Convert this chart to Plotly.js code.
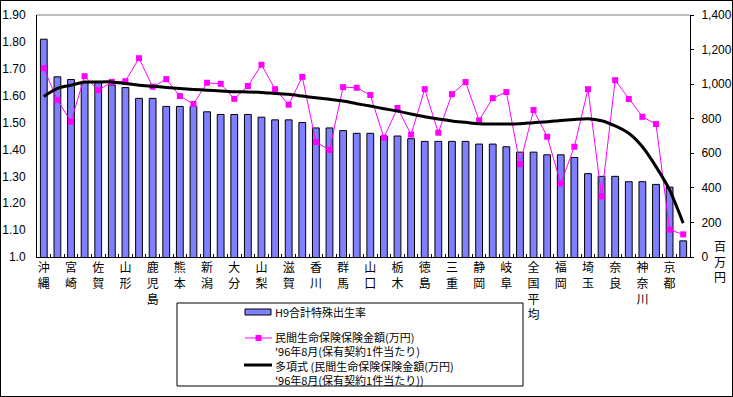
<!DOCTYPE html>
<html>
<head>
<meta charset="utf-8">
<script src="https://cdn.plot.ly/plotly-3.0.1.min.js"></script>
<style>
html,body{margin:0;padding:0;background:#fff;}
#wrap{position:relative;width:733px;height:397px;}
#plot{width:733px;height:397px;}
#frame{position:absolute;left:0;top:0;width:731px;height:395px;border:1px solid #000;pointer-events:none;}
</style>
</head>
<body>
<div id="wrap"><div id="plot"></div><div id="frame"></div></div>
<script>
// Categories (sorted by H9 total fertility rate)
const categories = ['沖縄','福島','宮崎','島根','佐賀','長崎','山形','鳥取','鹿児島','福井','熊本','岩手','新潟','長野','大分','青森','山梨','秋田','滋賀','富山','香川','石川','群馬','茨城','山口','岡山','栃木','愛媛','徳島','高知','三重','和歌山','静岡','広島','岐阜','愛知','全国平均','宮城','福岡','兵庫','埼玉','大阪','奈良','千葉','神奈川','北海道','京都','東京'];
// Which categories carry a visible tick label
const labeledCategories = ['沖縄','宮崎','佐賀','山形','鹿児島','熊本','新潟','大分','山梨','滋賀','香川','群馬','山口','栃木','徳島','三重','静岡','岐阜','全国平均','福岡','埼玉','奈良','神奈川','京都'];
// H9 合計特殊出生率
const fertility = [1.81,1.67,1.66,1.65,1.65,1.64,1.63,1.59,1.59,1.56,1.56,1.56,1.54,1.53,1.53,1.53,1.52,1.51,1.51,1.50,1.48,1.48,1.47,1.46,1.46,1.45,1.45,1.44,1.43,1.43,1.43,1.43,1.42,1.42,1.41,1.39,1.39,1.38,1.38,1.37,1.31,1.30,1.30,1.28,1.28,1.27,1.26,1.06];
// 民間生命保険保険金額 (万円) '96年8月
const insurance = [1092,908,783,1046,965,1013,1017,1150,985,1029,931,885,1008,1002,915,989,1112,971,881,1042,665,619,983,979,937,690,862,708,971,719,942,1012,790,919,954,537,850,696,425,638,971,350,1023,914,811,769,158,131];
// 多項式 trend line
const trend = [929,975,994,1012,1013,1013,1004,994,988,981,975,969,965,961,956,955,952,946,941,931,921,912,902,887,873,858,844,827,811,798,787,779,771,769,769,771,777,782,790,796,800,788,758,716,638,523,388,196];
// Axis tick labels
const leftTickVals = [1.0,1.1,1.2,1.3,1.4,1.5,1.6,1.7,1.8,1.9];
const leftTickText = ['1.0','1.10','1.20','1.30','1.40','1.50','1.60','1.70','1.80','1.90'];
const rightTickVals = [0,200,400,600,800,1000,1200,1400];
const rightTickText = ['0','200','400','600','800','1,000','1,200','1,400'];
// Legend texts (one entry per line)
const legendBar = ['H9合計特殊出生率'];
const legendLine = ['民間生命保険保険金額(万円)', '\'96年8月(保有契約1件当たり)'];
const legendTrend = ['多項式 (民間生命保険保険金額(万円)', '\'96年8月(保有契約1件当たり))'];

const tickText = categories.map(c => labeledCategories.includes(c) ? c.split('').join('<br>') : '');

const JP = '"Noto Sans CJK JP", "Liberation Sans", sans-serif';
const BAR_COLOR = '#8080FF', PINK = '#FF00FF';

const traces = [
  {type:'bar', x:categories, y:fertility, name:legendBar[0], yaxis:'y',
   marker:{color:BAR_COLOR, line:{color:'#000', width:1}}},
  {type:'scatter', mode:'lines+markers', x:categories, y:insurance, name:legendLine.join(' '), yaxis:'y2',
   line:{color:PINK, width:1}, marker:{symbol:'square', size:6, color:PINK}},
  {type:'scatter', mode:'lines', x:categories, y:trend, name:legendTrend.join(' '), yaxis:'y2',
   line:{color:'#000', width:3, shape:'spline', smoothing:0.6}}
];

// pixel -> paper helpers for the legend box (plot area: x 37..690, y 15..257)
const PX = x => (x - 37) / 653;
const PY = y => (257 - y) / 242;

const shapes = [
  {type:'line', xref:'paper', yref:'paper', x0:0, x1:1, y0:1, y1:1, line:{color:'#808080', width:1}},
  // legend frame
  {type:'rect', xref:'paper', yref:'paper', x0:PX(177), x1:PX(523), y0:PY(386), y1:PY(303),
   line:{color:'#000', width:1}, fillcolor:'rgba(0,0,0,0)'},
  // legend symbols
  {type:'rect', xref:'paper', yref:'paper', x0:PX(245), x1:PX(271), y0:PY(315), y1:PY(309),
   line:{color:'#000', width:1}, fillcolor:BAR_COLOR},
  {type:'line', xref:'paper', yref:'paper', x0:PX(245), x1:PX(272), y0:PY(338), y1:PY(338),
   line:{color:PINK, width:1}},
  {type:'rect', xref:'paper', yref:'paper', x0:PX(255.5), x1:PX(261.5), y0:PY(341), y1:PY(335),
   line:{color:PINK, width:0}, fillcolor:PINK},
  {type:'line', xref:'paper', yref:'paper', x0:PX(244), x1:PX(272), y0:PY(365), y1:PY(365),
   line:{color:'#000', width:3}}
];

const legendAnn = (lines, y) => ({xref:'paper', yref:'paper', x:PX(274), y:PY(y), text:lines.join('<br>'),
  showarrow:false, align:'left', xanchor:'left', yanchor:'middle', borderpad:0,
  font:{family:JP, size:11, color:'#000'}});

const annotations = [
  {xref:'paper', yref:'paper', x:PX(720), y:PY(261), text:'百<br>万<br>円', showarrow:false,
   xanchor:'center', yanchor:'middle', font:{family:JP, size:12}},
  legendAnn(legendBar, 312),
  legendAnn(legendLine, 344.2),
  legendAnn(legendTrend, 372.8)
];

const layout = {
  width:733, height:397,
  margin:{l:37, r:43, t:15, b:140, autoexpand:false},
  paper_bgcolor:'#fff', plot_bgcolor:'#fff',
  font:{family:JP, size:12, color:'#000'},
  bargap:0.5,
  showlegend:false,
  xaxis:{type:'category', categoryorder:'array', categoryarray:categories,
         tickvals:categories, ticktext:tickText, tickson:'boundaries',
         ticks:'inside', ticklen:3, tickcolor:'#000',
         showline:true, linecolor:'#000', linewidth:1, showgrid:false, zeroline:false,
         tickangle:0, tickfont:{family:JP, size:12}, range:[-0.5, categories.length-0.5]},
  yaxis:{range:[1.0,1.9], tickvals:leftTickVals, ticktext:leftTickText,
         showline:true, linecolor:'#000', linewidth:1, showgrid:false, zeroline:false,
         ticks:'', ticklabelstandoff:8, tickfont:{family:'"Liberation Sans", sans-serif', size:12}},
  yaxis2:{overlaying:'y', side:'right', range:[0,1400], tickvals:rightTickVals, ticktext:rightTickText,
          showline:true, linecolor:'#000', linewidth:1, showgrid:false, zeroline:false,
          ticks:'outside', ticklen:3, tickcolor:'#000', ticklabelstandoff:5,
          tickfont:{family:'"Liberation Sans", sans-serif', size:12}},
  shapes:shapes,
  annotations:annotations
};

Plotly.newPlot('plot', traces, layout, {staticPlot:true, displayModeBar:false});
</script>
</body>
</html>
